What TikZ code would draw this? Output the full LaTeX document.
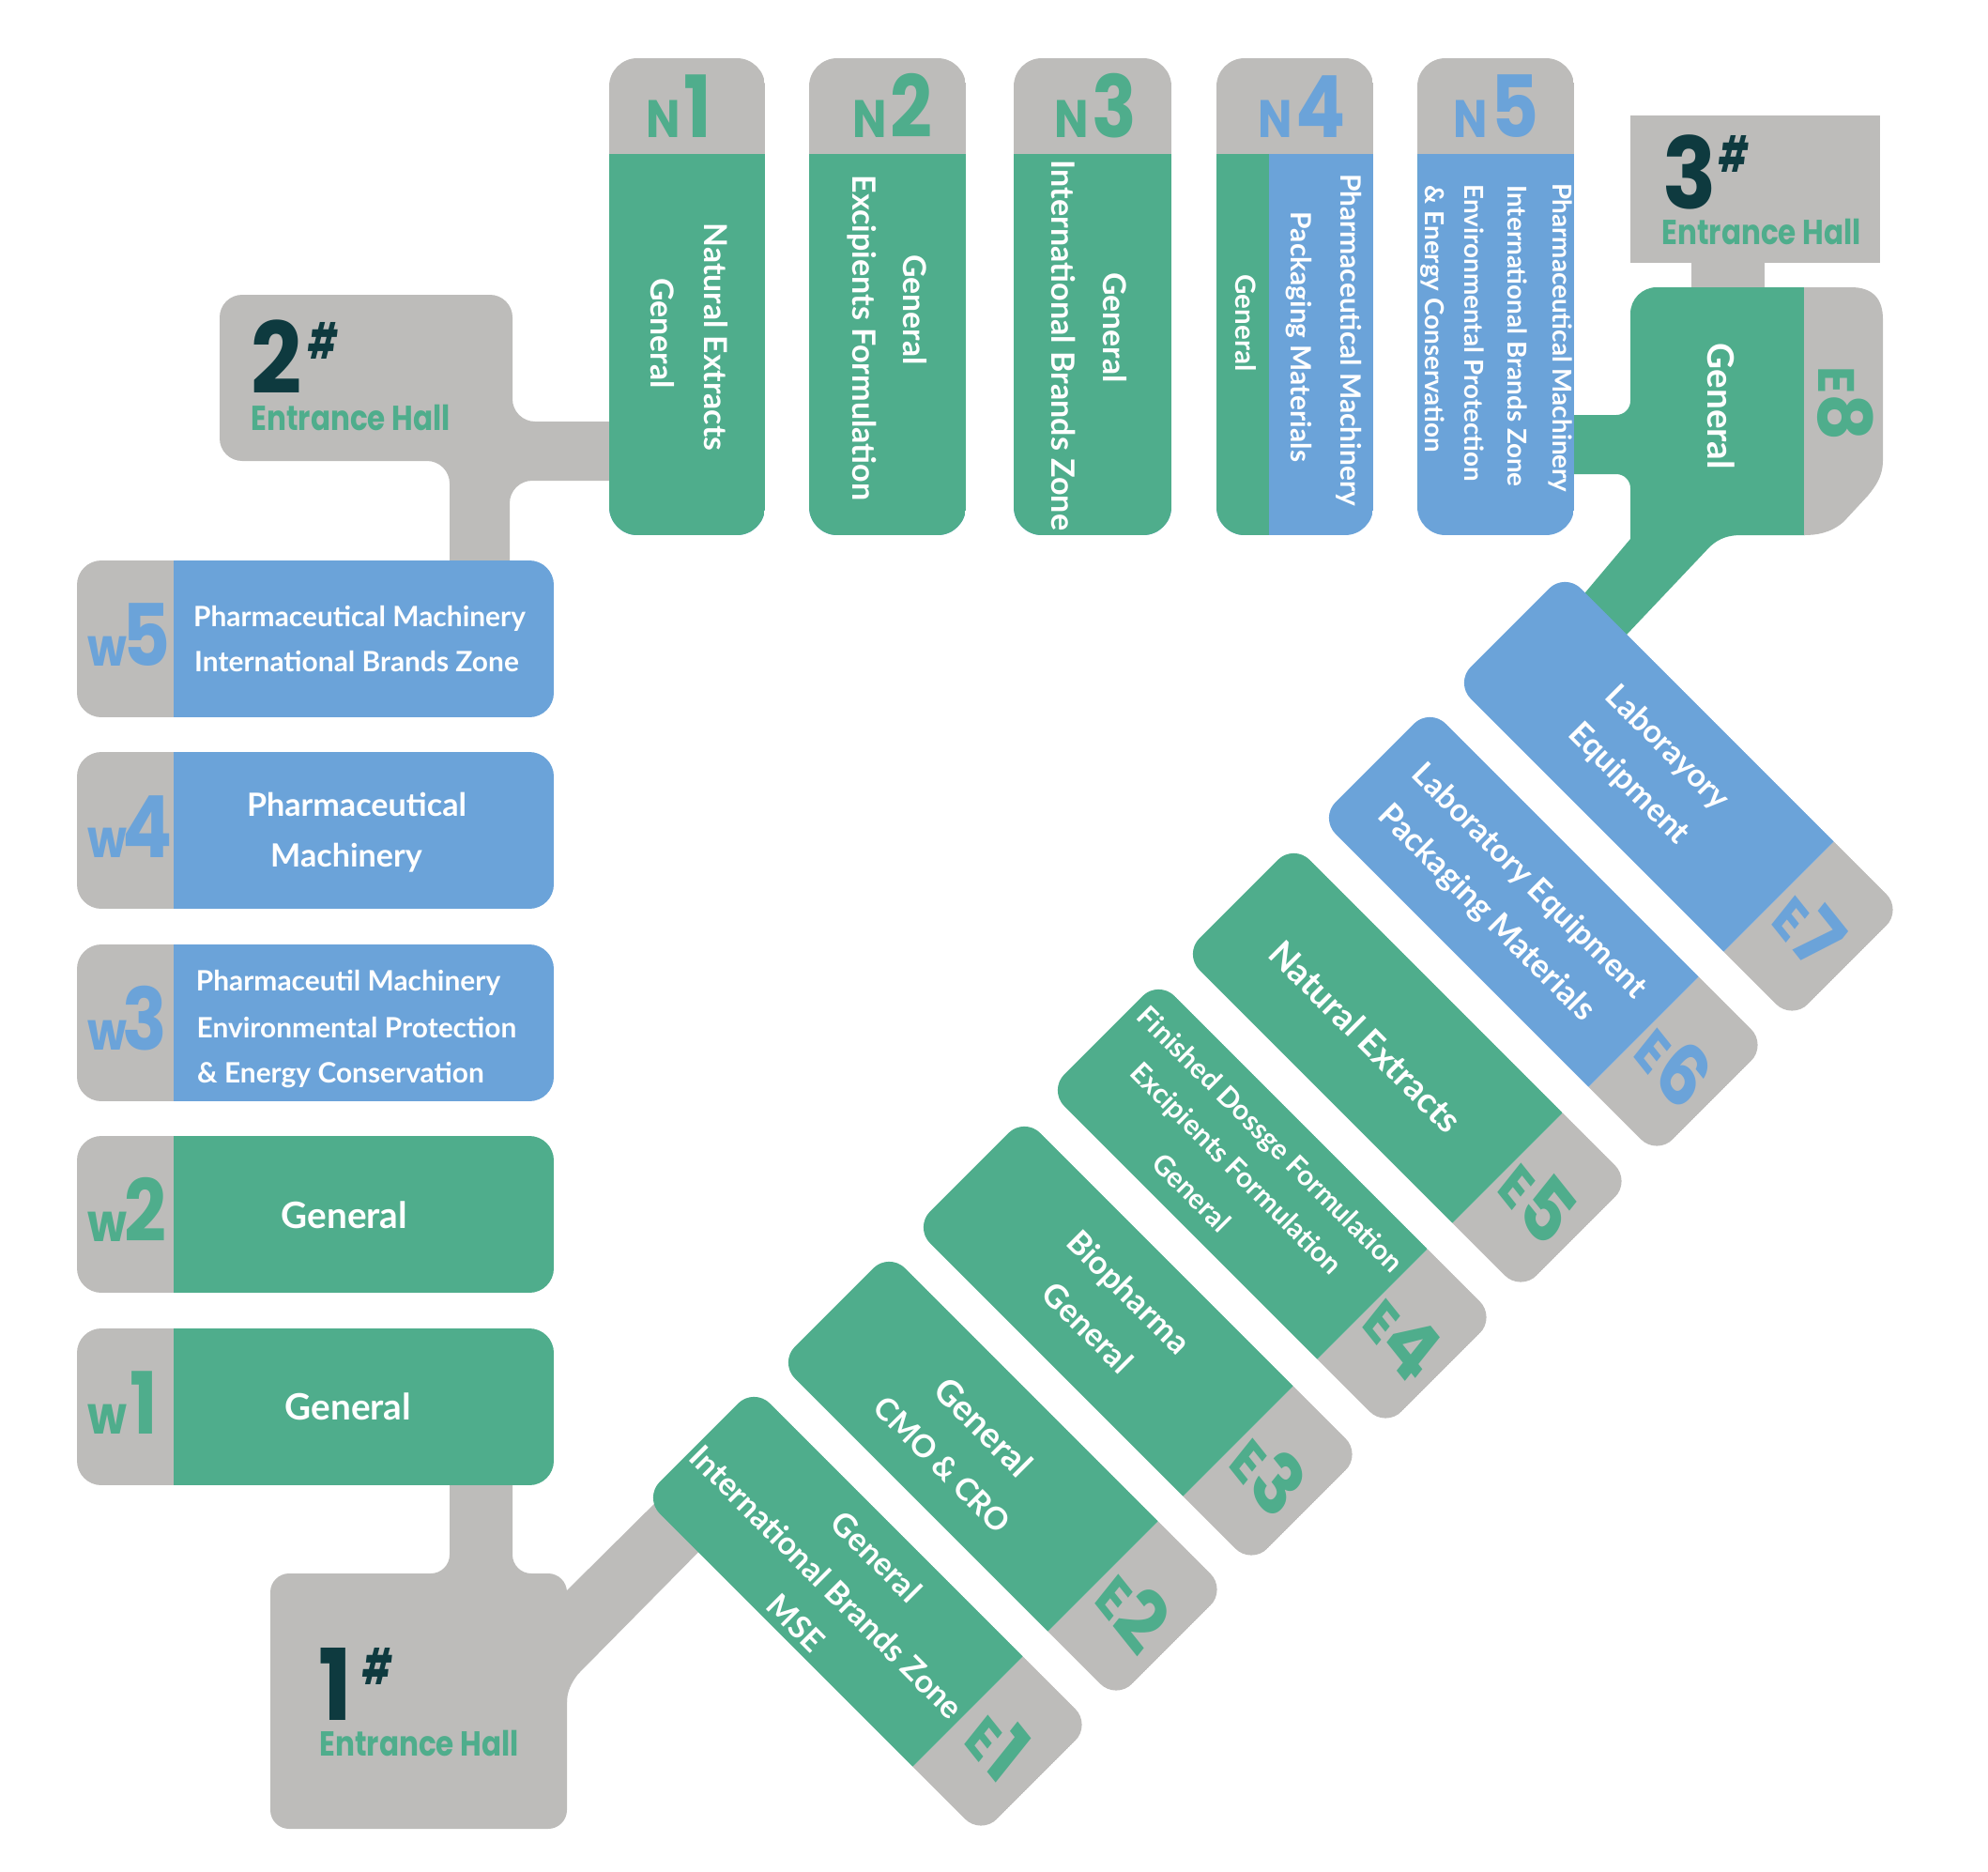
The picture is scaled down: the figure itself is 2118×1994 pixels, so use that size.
\documentclass[tikz,border=0pt]{standalone}
\usepackage{fontspec}
\setmainfont{Lato}
\newfontfamily\popfont{Poppins}
\definecolor{zonegreen}{HTML}{4FAD8C}
\definecolor{zoneblue}{HTML}{6BA3D9}
\definecolor{hallgray}{HTML}{BDBCBA}
\definecolor{halldark}{HTML}{0E3A3F}
\tikzset{
  txt/.style={text=white,inner sep=0pt,font=\fontsize{#1}{#1}\bfseries\selectfont},
  txtn/.style={txt=#1,rotate=-90},
  txte/.style={txt=#1,rotate=-45},
  tagbox/.style={inner sep=0pt,xscale=.86,font=\popfont\bfseries},
  hallnum/.style={anchor=base west,inner sep=0pt,text=halldark,xscale=.9,font=\fontsize{30}{30}\popfont\bfseries\selectfont},
  hallsharp/.style={anchor=north west,inner sep=0pt,text=halldark,xscale=.65,font=\fontsize{15}{15}\popfont\bfseries\itshape\selectfont},
  hallname/.style={anchor=base west,inner sep=0pt,text=zonegreen,xscale=.84,font=\fontsize{10.5}{10.5}\popfont\bfseries\selectfont},
}
\newcommand{\twosize}[4]{{\fontsize{#1}{#1}\selectfont #3}\kern#2{\fontsize{26}{26}\selectfont #4}}
\begin{document}
\begin{tikzpicture}[x=0.01cm,y=-0.01cm]
\useasboundingbox (0,0) rectangle (2118,1994);
% hall 2 with its two arms
\fill[hallgray,rounded corners=.24cm] (234,314) -- (546,314) -- (546,449) -- (700,449) -- (700,512) -- (543,512) -- (543,640) -- (479,640) -- (479,491) -- (234,491) -- cycle;
% hall 3 and stem
\fill[hallgray] (1737,123) rectangle (2003,280);
\fill[hallgray] (1802,280) rectangle (1880,310);
% hall 1 with stem
\fill[hallgray,rounded corners=.2cm] (288,1676) -- (479,1676) -- (479,1540) -- (546,1540) -- (546,1676) -- (604,1676) -- (604,1948) -- (288,1948) -- cycle;
\fill[hallgray] (600,1698) -- (722,1577) -- (771,1626) -- (616,1783) .. controls (608,1793) and (604,1803) .. (604,1813) -- (590,1813) -- cycle;
% green body of E8
\fill[zonegreen] (1923,306) [rounded corners=.28cm] -- (1737,306) [rounded corners=.15cm] -- (1737,442) -- (1640,442) -- (1640,505) -- (1737,505) [sharp corners] -- (1737,574) -- (1668,656) -- (1715,695) -- (1822,582) .. controls (1832,573) and (1842,570) .. (1855,570) -- (1923,570) -- cycle;
% gray end of E8
\fill[hallgray] (1922,306) -- (1972,306) .. controls (1995,306) and (2006,318) .. (2006,340) -- (2006,490) .. controls (2006,508) and (1998,518) .. (1990,528) -- (1964,556) .. controls (1950,568) and (1935,570) .. (1922,570) -- cycle;
% north row
\foreach \xa/\xb/\xs/\xt/\cola/\num in {649/815/815/688/zonegreen/1,862/1029/1029/908/zonegreen/2,1080/1248/1248/1123/zonegreen/3,1296/1463/1352/1340/zoneblue/4,1510/1677/1510/1548/zoneblue/5}{
  \begin{scope}
    \clip[rounded corners=.3cm] (\xa,62) rectangle (\xb,570);
    \fill[hallgray] (\xa,62) rectangle (\xb,164);
    \fill[zoneblue] (\xa,164) rectangle (\xb,570);
    \fill[zonegreen] (\xa,164) rectangle (\xs,570);
  \end{scope}
  \node[tagbox,anchor=base west,text=\cola] (n\num) at (\xt,147) {\twosize{16}{1pt}{N}{\num}};
}
% west column
\foreach \ya/\cola/\xt/\kn/\num in {597/zoneblue/93/-1.5pt/5,801/zoneblue/93/-1.5pt/4,1006/zoneblue/93/-1.5pt/3,1210/zonegreen/93/-1pt/2,1415/zonegreen/93/1pt/1}{
  \begin{scope}
    \clip[rounded corners=.26cm] (82,\ya) rectangle (590,\ya+167);
    \fill[hallgray] (82,\ya) rectangle (185,\ya+167);
    \fill[\cola] (185,\ya) rectangle (590,\ya+167);
  \end{scope}
  \node[tagbox,anchor=base west,text=\cola] (w\num) at (\xt,\ya+112) {\twosize{16}{\kn}{w}{\num}};
}
% east row
\foreach \cx/\cy/\cola/\num in {1031/1823/zonegreen/1,1175/1679/zonegreen/2,1319/1535/zonegreen/3,1462/1389/zonegreen/4,1606/1244/zonegreen/5,1751/1099/zoneblue/6,1895/955/zoneblue/7}{
  \begin{scope}[shift={(\cx,\cy)},rotate=-45]
    \begin{scope}
      \clip[rounded corners=.24cm] (-405,-83) rectangle (103,83);
      \fill[hallgray] (0,-83) rectangle (103,83);
      \fill[\cola] (-405,-83) rectangle (0,83);
    \end{scope}
    \node[tagbox,xscale=.93,rotate=-45,text=\cola] (e\num) at (47,0) {\twosize{18}{0pt}{E}{\num}};
  \end{scope}
}
\node[tagbox,xscale=1,yscale=.85,rotate=-90,text=zonegreen] (e8) at (1966,430) {\twosize{18}{0pt}{E}{8}};
% entrance halls
\node[hallnum] (hallb) at (267,419) {2};
\node[hallsharp] (hallbs) at (328,343) {\#};
\node[hallname] (hallbn) at (267,458) {Entrance Hall};
\node[hallnum] (hallc) at (1771,222) {3};
\node[hallsharp] (hallcs) at (1831,144) {\#};
\node[hallname] (hallcn) at (1770,261) {Entrance Hall};
\node[hallnum] (halla) at (339,1832) {1};
\node[hallsharp] (hallas) at (386,1755) {\#};
\node[hallname] (hallan) at (340,1870) {Entrance Hall};
% north labels
\node[txtn=9.6] (na) at (763,359) {Natural Extracts};
\node[txtn=9.6] (nb) at (706,355) {General};
\node[txtn=9.6] (nc) at (975,330) {General};
\node[txtn=9.7] (nd) at (918,360) {Excipients Formulation};
\node[txtn=9.6] (ne) at (1188,349) {General};
\node[txtn=9.7] (nf) at (1133,368) {International Brands Zone};
\node[txtn=8.4] (ng) at (1327,344) {General};
\node[txtn=8.5] (nh) at (1437,362) {Pharmaceutical Machinery};
\node[txtn=8.5] (ni) at (1384,359) {Packaging Materials};
\node[txtn=7.9] (nj) at (1662,360) {Pharmaceutical Machinery};
\node[txtn=7.9] (nk) at (1617,358) {International Brands Zone};
\node[txtn=7.9] (nl) at (1571,355) {Environmental Protection};
\node[txtn=7.9] (nm) at (1526,340) {\& Energy Conservation};
\node[txtn=11] (nn) at (1834,433) {General};
% west labels
\node[txt=8.5] (wa) at (383,659) {Pharmaceutical Machinery};
\node[txt=8.5] (wb) at (380,705) {International Brands Zone};
\node[txt=9.7] (wc) at (380,857) {Pharmaceutical};
\node[txt=9.7] (wd) at (369,914) {Machinery};
\node[txt=8.5] (we) at (371,1047) {Pharmaceutil Machinery};
\node[txt=8.5] (wf) at (380,1094) {Environmental Protection};
\node[txt=8.5] (wg) at (363,1145) {\& Energy Conservation};
\node[txt=11] (wh) at (367,1294) {General};
\node[txt=11] (wi) at (371,1498) {General};
% east labels
\node[txte=9.8] (ea) at (934,1658) {General};
\node[txte=9.7] (eb) at (881,1685) {International Brands Zone};
\node[txte=9.6] (ec) at (848,1729) {MSE};
\node[txte=10.7] (ed) at (1048,1520) {General};
\node[txte=9.4] (ee) at (1004,1560) {CMO \& CRO};
\node[txte=9.9] (ef) at (1201,1378) {Biopharma};
\node[txte=9.8] (eg) at (1159,1414) {General};
\node[txte=8.5] (eh) at (1352,1215) {Finished Dossge Formulation};
\node[txte=8.5] (ei) at (1316,1246) {Excipients Formulation};
\node[txte=8.5] (ej) at (1270,1270) {General};
\node[txte=10.7] (ek) at (1455,1104) {Natural Extracts};
\node[txte=9.65] (el) at (1629,939) {Laboratory Equipment};
\node[txte=9.9] (em) at (1583,973) {Packaging Materials};
\node[txte=9.7] (en) at (1776,797) {Laborayory};
\node[txte=9.8] (eo) at (1735,835) {Equipment};
\end{tikzpicture}
\end{document}
